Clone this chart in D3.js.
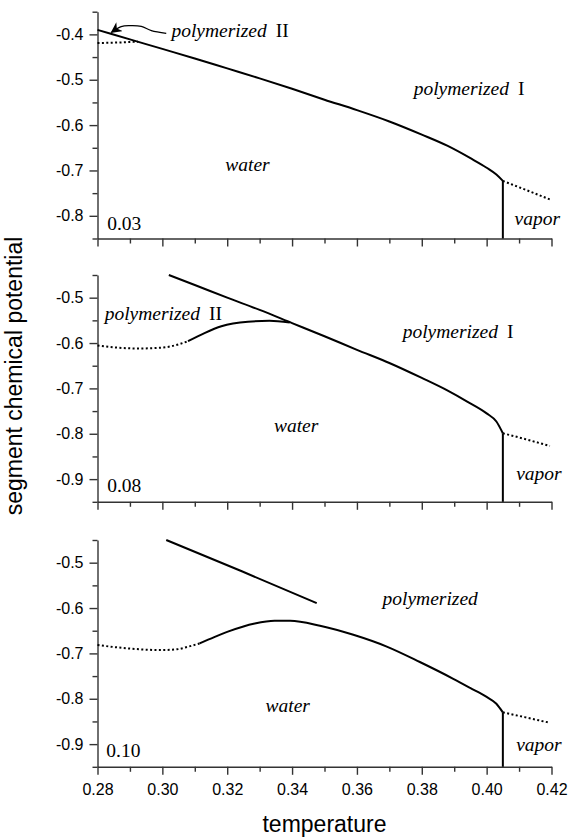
<!DOCTYPE html>
<html>
<head>
<meta charset="utf-8">
<script src="https://cdn.jsdelivr.net/npm/d3@7"></script>
<style>
  body { margin: 0; background: #fff; }
  .tick text { font-family: "Liberation Sans", Arial, sans-serif; font-size: 16px; fill: #000; }
  .axis path, .axis line { stroke: #333; stroke-width: 1.4; }
  .note { font-family: "Liberation Serif", "Times New Roman", serif; font-size: 19.5px; fill: #000; }
  .title { font-family: "Liberation Sans", Arial, sans-serif; font-size: 23px; fill: #000; }
</style>
</head>
<body>
<svg id="chart" width="571" height="838"></svg>
<script>
// tick values
const tempMajor = [0.28, 0.30, 0.32, 0.34, 0.36, 0.38, 0.40, 0.42];
const tempMinor = [0.29, 0.31, 0.33, 0.35, 0.37, 0.39, 0.41];
const muTicksTop = [-0.8, -0.7, -0.6, -0.5, -0.4];
const muMinorTop = [-0.85, -0.75, -0.65, -0.55, -0.45, -0.35];
const muTicksLow = [-0.9, -0.8, -0.7, -0.6, -0.5];
const muMinorLow = [-0.95, -0.85, -0.75, -0.65, -0.55, -0.45];
const muDomainTop = [-0.85, -0.35];
const muDomainLow = [-0.95, -0.45];
const panelNames = ["0.03", "0.08", "0.10"];

// panel 0.03
const p1Coexist = [[0.28,-0.390],[0.29,-0.411],[0.30,-0.432],[0.31,-0.453],[0.32,-0.475],[0.33,-0.497],[0.34,-0.520],[0.35,-0.544],[0.36,-0.567],[0.37,-0.592],[0.38,-0.621],[0.388,-0.646],[0.395,-0.673],[0.40,-0.694],[0.403,-0.709],[0.405,-0.723]];
const p1DotLeft = [[0.28,-0.419],[0.286,-0.418],[0.2925,-0.416]];
const p1DotRight = [[0.405,-0.723],[0.41,-0.737],[0.415,-0.751],[0.4195,-0.764]];
const p1Vapor = [[0.405,-0.723],[0.405,-0.85]];
const p1Leader = [[0.2843,-0.3956],[0.2873,-0.3830],[0.2899,-0.3808],[0.2935,-0.3823],[0.2966,-0.3918],[0.3012,-0.3978]];

// panel 0.08
const p2Coexist = [[0.302,-0.45],[0.31,-0.472],[0.32,-0.500],[0.33,-0.527],[0.34,-0.556],[0.35,-0.585],[0.36,-0.615],[0.37,-0.644],[0.38,-0.677],[0.388,-0.705],[0.394,-0.729],[0.40,-0.755],[0.403,-0.773],[0.405,-0.799]];
const p2Hump = [[0.3079,-0.596],[0.313,-0.578],[0.3182,-0.563],[0.3264,-0.553],[0.333,-0.551],[0.3393,-0.555]];
const p2DotLeft = [[0.28,-0.6055],[0.286,-0.610],[0.2925,-0.612],[0.298,-0.611],[0.3028,-0.607],[0.3079,-0.596]];
const p2DotRight = [[0.405,-0.799],[0.412,-0.812],[0.4195,-0.827]];
const p2Vapor = [[0.405,-0.799],[0.405,-0.95]];

// panel 0.10
const p3Upper = [[0.3012,-0.45],[0.3245,-0.519],[0.3476,-0.589]];
const p3Hump = [[0.3115,-0.678],[0.316,-0.664],[0.3202,-0.652],[0.3285,-0.634],[0.3346,-0.628],[0.3394,-0.628],[0.3486,-0.639],[0.3589,-0.659],[0.3692,-0.685],[0.3794,-0.719],[0.3897,-0.756],[0.3949,-0.776],[0.40,-0.796],[0.403,-0.811],[0.405,-0.830]];
const p3DotLeft = [[0.28,-0.6816],[0.2894,-0.689],[0.2997,-0.6927],[0.3045,-0.691],[0.3079,-0.6853],[0.3115,-0.678]];
const p3DotRight = [[0.405,-0.830],[0.412,-0.841],[0.4195,-0.853]];
const p3Vapor = [[0.405,-0.830],[0.405,-0.95]];

const svg = d3.select('#chart');
const left = 97.5, right = 551.5;
const panelTop = [11.7, 275, 540];
const panelH = 226.8;

const x = d3.scaleLinear().domain([0.28, 0.42]).range([left, right]);

// marker for the arrow to polymerized II
svg.append('defs').append('marker')
  .attr('id', 'arrowHead')
  .attr('viewBox', '0 0 10 10')
  .attr('refX', 9).attr('refY', 5)
  .attr('markerWidth', 11).attr('markerHeight', 11)
  .attr('markerUnits', 'userSpaceOnUse')
  .attr('orient', 'auto-start-reverse')
  .append('path')
  .attr('d', 'M0,0 L10,5 L0,10 L3,5 Z')
  .attr('fill', '#000');

var makePanel = function (i, domain, majorTicks, minorTicks, showTempLabels) {
  var top = panelTop[i];
  var y = d3.scaleLinear().domain(domain).range([top + panelH, top]);
  var g = svg.append('g');

  //minor ticks first
  g.append('g').attr('class', 'axis')
    .attr('transform', 'translate(' + left + ',0)')
    .call(d3.axisLeft(y).tickValues(minorTicks).tickSize(5).tickSizeOuter(0).tickFormat(''))
    .select('.domain').remove();
  g.append('g').attr('class', 'axis')
    .attr('transform', 'translate(0,' + (top + panelH) + ')')
    .call(d3.axisBottom(x).tickValues(tempMinor).tickSize(5).tickSizeOuter(0).tickFormat(''))
    .select('.domain').remove();

  g.append('g').attr('class', 'axis')
    .attr('transform', 'translate(' + left + ',0)')
    .call(d3.axisLeft(y).tickValues(majorTicks).tickSize(8).tickPadding(6).tickSizeOuter(0)
      .tickFormat(function (d) { return d.toFixed(1); }));
  g.append('g').attr('class', 'axis')
    .attr('transform', 'translate(0,' + (top + panelH) + ')')
    .call(d3.axisBottom(x).tickValues(tempMajor).tickSize(8).tickPadding(9).tickSizeOuter(0)
      .tickFormat(showTempLabels ? function (d) { return d.toFixed(2); } : ''));

  g.y = y;
  return g;
};

var drawLine = function (g, y, pts, dotted, curve) {
  var line = d3.line()
    .x(function (d) { return x(d[0]); })
    .y(function (d) { return y(d[1]); })
    .curve(curve || d3.curveMonotoneX);
  return g.append('path')
    .datum(pts)
    .attr('d', line)
    .attr('fill', 'none')
    .attr('stroke', '#000')
    .attr('stroke-width', 2)
    .attr('stroke-dasharray', dotted ? '2,2.4' : null);
};

var vLine = function (g, y, pts) {
  g.append('line')
    .attr('x1', x(pts[0][0])).attr('y1', y(pts[0][1]))
    .attr('x2', x(pts[1][0])).attr('y2', y(pts[1][1]))
    .attr('stroke', '#000').attr('stroke-width', 2);
};

var note = function (g, y, t, mu, main, numeral, italic) {
  var txt = g.append('text').attr('class', 'note')
    .attr('x', x(t)).attr('y', y(mu)).attr('dy', '0.35em');
  txt.append('tspan').attr('font-style', italic === false ? 'normal' : 'italic').text(main);
  if (numeral) {
    txt.append('tspan').attr('dx', 9).attr('font-style', 'normal').text(numeral);
  }
};

// panel 0.03
var g1 = makePanel(0, muDomainTop, muTicksTop, muMinorTop, false);
drawLine(g1, g1.y, p1Coexist, false);
drawLine(g1, g1.y, p1DotLeft, true);
drawLine(g1, g1.y, p1DotRight, true);
vLine(g1, g1.y, p1Vapor);
drawLine(g1, g1.y, p1Leader, false, d3.curveCatmullRom)
  .attr('stroke-width', 1.2)
  .attr('marker-start', 'url(#arrowHead)');
note(g1, g1.y, 0.3028, -0.3918, 'polymerized', 'II');
note(g1, g1.y, 0.3775, -0.5186, 'polymerized', 'I');
note(g1, g1.y, 0.3194, -0.6854, 'water');
note(g1, g1.y, 0.4086, -0.8049, 'vapor');
note(g1, g1.y, 0.2830, -0.816, panelNames[0], null, false);

// panel 0.08
var g2 = makePanel(1, muDomainLow, muTicksLow, muMinorLow, false);
drawLine(g2, g2.y, p2Coexist, false);
drawLine(g2, g2.y, p2Hump, false);
drawLine(g2, g2.y, p2DotLeft, true);
drawLine(g2, g2.y, p2DotRight, true);
vLine(g2, g2.y, p2Vapor);
note(g2, g2.y, 0.2822, -0.5332, 'polymerized', 'II');
note(g2, g2.y, 0.3741, -0.5739, 'polymerized', 'I');
note(g2, g2.y, 0.3344, -0.7803, 'water');
note(g2, g2.y, 0.4091, -0.8872, 'vapor');
note(g2, g2.y, 0.2830, -0.913, panelNames[1], null, false);

// panel 0.10
var g3 = makePanel(2, muDomainLow, muTicksLow, muMinorLow, true);
drawLine(g3, g3.y, p3Upper, false);
drawLine(g3, g3.y, p3Hump, false);
drawLine(g3, g3.y, p3DotLeft, true);
drawLine(g3, g3.y, p3DotRight, true);
vLine(g3, g3.y, p3Vapor);
note(g3, g3.y, 0.3679, -0.5778, 'polymerized');
note(g3, g3.y, 0.3318, -0.8133, 'water');
note(g3, g3.y, 0.4091, -0.900, 'vapor');
note(g3, g3.y, 0.2827, -0.9133, panelNames[2], null, false);

// axis titles
svg.append('text').attr('class', 'title')
  .attr('x', (left + right) / 2).attr('y', 832)
  .attr('text-anchor', 'middle')
  .text('temperature');

svg.append('text').attr('class', 'title')
  .attr('transform', 'translate(22,376) rotate(-90)')
  .attr('text-anchor', 'middle')
  .text('segment chemical potential');
</script>
</body>
</html>
